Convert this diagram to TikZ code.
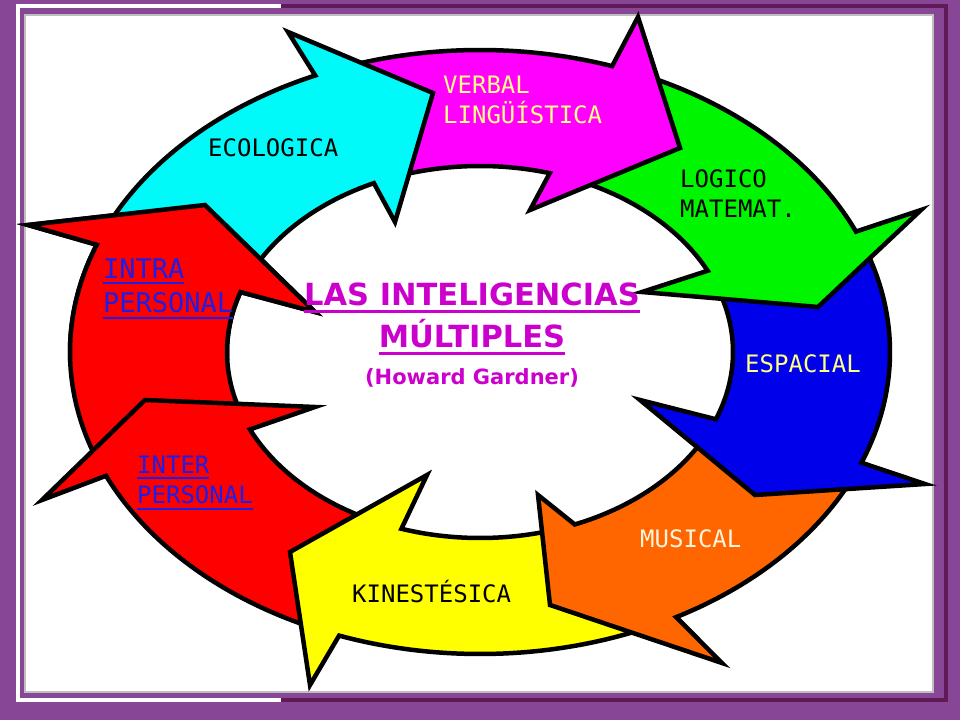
\documentclass[tikz,border=0pt]{standalone}
\usepackage{fontspec}
\setsansfont{DejaVu Sans}
\setmonofont{DejaVu Sans Mono}
\usepackage{tikz}

\definecolor{framepurple}{RGB}{136,70,150}
\definecolor{shadepurple}{RGB}{96,26,88}
\definecolor{ecocyan}{RGB}{0,250,250}
\definecolor{verbmag}{RGB}{255,0,255}
\definecolor{logigreen}{RGB}{0,245,0}
\definecolor{espblue}{RGB}{0,0,235}
\definecolor{musorange}{RGB}{255,102,0}
\definecolor{kinyellow}{RGB}{255,255,0}
\definecolor{persred}{RGB}{255,0,0}
\definecolor{titlemag}{RGB}{204,0,204}
\definecolor{labyellow}{RGB}{255,255,130}
\definecolor{labcream}{RGB}{255,245,220}
\definecolor{labblue}{RGB}{30,30,230}

% one arrow of the ring: colour, outer tail, outer base, outer barb, tip, inner barb, inner base, inner tail
\newcommand{\ringarrow}[8]{%
  \filldraw[ringedge,fill=#1] (#2:410 and 302)
    arc[start angle=#2,end angle=#3,x radius=410,y radius=302]
    -- #4 -- #5 -- #6 -- (#7:253 and 186)
    arc[start angle=#7,end angle=#8,x radius=253,y radius=186] -- cycle;}
\newcommand{\undl}[2][2pt]{\vtop{\hbox{#2}\kern4pt\hrule height #1}}

\begin{document}
\begin{tikzpicture}[x=1pt,y=1pt,
    ringedge/.style={draw=black,line width=4.5pt},
    lab/.style={inner sep=0pt,font=\ttfamily\fontsize{24}{30}\selectfont,align=left}]
  \useasboundingbox (0,0) rectangle (960,720);
  % frame
  \fill[framepurple] (0,0) rectangle (960,720);
  \draw[white,line width=4pt] (281,714) -- (18,714) -- (18,20) -- (281,20);
  \draw[shadepurple,line width=4pt] (281,714) -- (946,714) -- (946,20) -- (281,20);
  \filldraw[fill=white,draw=black!25,line width=1.5pt] (25,28) rectangle (933,705);
  % ring of arrows, backwards so that each head lies on the next tail
  \begin{scope}[shift={(480,368)}]
    \ringarrow{persred}{202}{159.2}{(-452,127)}{(-275,147)}{(-165,40)}{161.2}{202}
    \ringarrow{persred}{246}{204.2}{(-438,-148)}{(-335,-48)}{(-165,-55)}{204.6}{248}
    \ringarrow{kinyellow}{295}{249.9}{(-170,-333)}{(-190,-200)}{(-53,-123)}{251.9}{289}
    \ringarrow{musorange}{-24}{-61.4}{(242,-311)}{(70,-253)}{(58,-143)}{-68}{-24}
    \ringarrow{espblue}{21}{-21.5}{(445,-132)}{(275,-143)}{(160,-48)}{-21.2}{21}
    \ringarrow{logigreen}{67}{23.5}{(441,142)}{(338,45)}{(162,60)}{25.9}{67}
    \ringarrow{verbmag}{109}{71.2}{(158,335)}{(200,204)}{(50,142)}{74}{109}
    \ringarrow{ecocyan}{156}{113.7}{(-192,320)}{(-47,259)}{(-85,130)}{114.8}{156}
  \end{scope}
  % intra head again, over the tail of ecologica
  \begin{scope}
    \clip (0,360) rectangle (480,720);
    \begin{scope}[shift={(480,368)}]
      \ringarrow{persred}{202}{159.2}{(-452,127)}{(-275,147)}{(-165,40)}{161.2}{202}
    \end{scope}
  \end{scope}
  % labels
  \node[lab,anchor=base west,text=black] (eco) at (208,563) {ECOLOGICA};
  \node[lab,anchor=north west,text=labyellow] (verbal) at (443,644.5) {VERBAL\\LINGÜÍSTICA};
  \node[lab,anchor=north west,text=black] (logico) at (680,550.5) {LOGICO\\MATEMAT.};
  \node[lab,anchor=base west,text=labyellow] (espacial) at (745,347) {ESPACIAL};
  \node[lab,anchor=base west,text=labcream] (musical) at (640,172) {MUSICAL};
  \node[lab,anchor=base west,text=black] (kines) at (352,118) {KINESTÉSICA};
  \node[lab,anchor=north west,text=labblue] (inter) at (137,264.5) {\undl{INTER}\\\undl{PERSONAL}};
  \node[lab,anchor=north west,text=labblue,font=\ttfamily\fontsize{27}{34}\selectfont] (intra) at (103,461.7) {\undl{INTRA}\\\undl{PERSONAL}};
  \node[anchor=north,inner sep=0pt,align=center,text=titlemag,
        font=\sffamily\bfseries\fontsize{30.5}{42}\selectfont] (title) at (472,437)
        {\undl[3pt]{LAS INTELIGENCIAS}\\\undl[3pt]{MÚLTIPLES}\\[-5pt]{\fontsize{21}{24}\selectfont(Howard Gardner)}};
\end{tikzpicture}
\end{document}
